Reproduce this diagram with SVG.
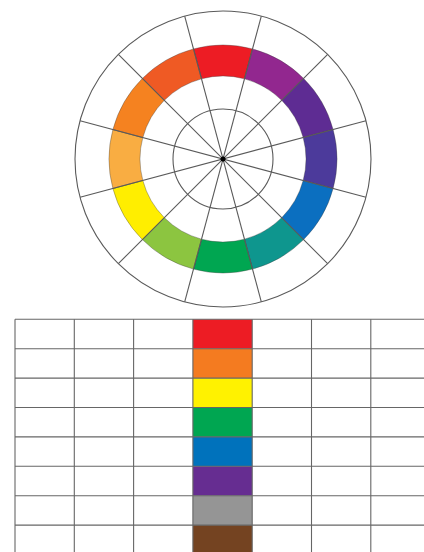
<svg xmlns="http://www.w3.org/2000/svg" width="424" height="552" viewBox="0 0 424 552">
<style>
.ln{stroke:#5a5a5a;stroke-width:1.1;fill:none}
.seg{stroke:#3a3a3a;stroke-opacity:0.45;stroke-width:0.8}
.gl{stroke:#666;stroke-width:1.1;fill:none}
</style>
<rect width="424" height="552" fill="#fff"/>
<g id="wheel">
<g id="ring">
<path id="s-red" class="seg" fill="#ED1C24" d="M193.494 48.884A114 114 0 0 1 252.506 48.884L244.482 78.828A83 83 0 0 0 201.518 78.828Z"/>
<path id="s-magenta" class="seg" fill="#92278F" d="M252.506 48.884A114 114 0 0 1 303.610 78.390L281.690 100.310A83 83 0 0 0 244.482 78.828Z"/>
<path id="s-violet" class="seg" fill="#5E2C93" d="M303.610 78.390A114 114 0 0 1 333.116 129.494L303.172 137.518A83 83 0 0 0 281.690 100.310Z"/>
<path id="s-blueviolet" class="seg" fill="#4C3A9B" d="M333.116 129.494A114 114 0 0 1 333.116 188.506L303.172 180.482A83 83 0 0 0 303.172 137.518Z"/>
<path id="s-blue" class="seg" fill="#0B6FC0" d="M333.116 188.506A114 114 0 0 1 303.610 239.610L281.690 217.690A83 83 0 0 0 303.172 180.482Z"/>
<path id="s-teal" class="seg" fill="#0E968E" d="M303.610 239.610A114 114 0 0 1 252.506 269.116L244.482 239.172A83 83 0 0 0 281.690 217.690Z"/>
<path id="s-green" class="seg" fill="#00A651" d="M252.506 269.116A114 114 0 0 1 193.494 269.116L201.518 239.172A83 83 0 0 0 244.482 239.172Z"/>
<path id="s-yellowgreen" class="seg" fill="#8CC540" d="M193.494 269.116A114 114 0 0 1 142.390 239.610L164.310 217.690A83 83 0 0 0 201.518 239.172Z"/>
<path id="s-yellow" class="seg" fill="#FFEE00" d="M142.390 239.610A114 114 0 0 1 112.884 188.506L142.828 180.482A83 83 0 0 0 164.310 217.690Z"/>
<path id="s-yelloworange" class="seg" fill="#F9AD42" d="M112.884 188.506A114 114 0 0 1 112.884 129.494L142.828 137.518A83 83 0 0 0 142.828 180.482Z"/>
<path id="s-orange" class="seg" fill="#F58220" d="M112.884 129.494A114 114 0 0 1 142.390 78.390L164.310 100.310A83 83 0 0 0 142.828 137.518Z"/>
<path id="s-redorange" class="seg" fill="#EF5A24" d="M142.390 78.390A114 114 0 0 1 193.494 48.884L201.518 78.828A83 83 0 0 0 164.310 100.310Z"/>
</g>
<g id="spokes" class="ln">
<line x1="261.305" y1="16.043" x2="184.695" y2="301.957"/>
<line x1="327.652" y1="54.348" x2="118.348" y2="263.652"/>
<line x1="365.957" y1="120.695" x2="80.043" y2="197.305"/>
<line x1="365.957" y1="197.305" x2="80.043" y2="120.695"/>
<line x1="327.652" y1="263.652" x2="118.348" y2="54.348"/>
<line x1="261.305" y1="301.957" x2="184.695" y2="16.043"/>
</g>
<circle id="outer" class="ln" cx="223" cy="159" r="148"/>
<circle id="inner" class="ln" cx="223" cy="159" r="50"/>
<circle id="center" cx="223" cy="159" r="2.5" fill="#000"/>
</g>
<g id="chart">
<g id="cells">
<rect id="c-red" x="192.9" y="319.3" width="59.3" height="29.4" fill="#ED1C24"/>
<rect id="c-orange" x="192.9" y="348.7" width="59.3" height="29.4" fill="#F47B20"/>
<rect id="c-yellow" x="192.9" y="378.1" width="59.3" height="29.4" fill="#FFF200"/>
<rect id="c-green" x="192.9" y="407.5" width="59.3" height="29.4" fill="#00A651"/>
<rect id="c-blue" x="192.9" y="436.9" width="59.3" height="29.4" fill="#0072BC"/>
<rect id="c-purple" x="192.9" y="466.3" width="59.3" height="29.4" fill="#662D91"/>
<rect id="c-gray" x="192.9" y="495.7" width="59.3" height="29.4" fill="#959595"/>
<rect id="c-brown" x="192.9" y="525.1" width="59.3" height="27" fill="#744321"/>
</g>
<g id="grid" class="gl">
<line x1="15" y1="319.3" x2="15" y2="552"/>
<line x1="74.3" y1="319.3" x2="74.3" y2="552"/>
<line x1="133.6" y1="319.3" x2="133.6" y2="552"/>
<line x1="192.9" y1="319.3" x2="192.9" y2="552"/>
<line x1="252.2" y1="319.3" x2="252.2" y2="552"/>
<line x1="311.5" y1="319.3" x2="311.5" y2="552"/>
<line x1="370.8" y1="319.3" x2="370.8" y2="552"/>
<line x1="15" y1="319.3" x2="424" y2="319.3"/>
<line x1="15" y1="348.7" x2="424" y2="348.7"/>
<line x1="15" y1="378.1" x2="424" y2="378.1"/>
<line x1="15" y1="407.5" x2="424" y2="407.5"/>
<line x1="15" y1="436.9" x2="424" y2="436.9"/>
<line x1="15" y1="466.3" x2="424" y2="466.3"/>
<line x1="15" y1="495.7" x2="424" y2="495.7"/>
<line x1="15" y1="525.1" x2="424" y2="525.1"/>
</g>
</g>
</svg>
